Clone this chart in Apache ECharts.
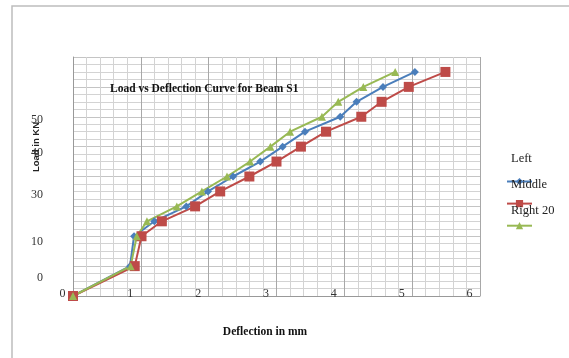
<!DOCTYPE html>
<html>
<head>
<meta charset="utf-8">
<script src="https://cdn.jsdelivr.net/npm/echarts@6/dist/echarts.min.js"></script>
<style>
  html, body { margin: 0; padding: 0; background: #fff; }
  #chart { width: 569px; height: 358px; }
</style>
</head>
<body>
<div id="chart"></div>
<script>
// load steps (kN), shared by all three gauges
const loads = [0, 10, 20, 25, 30, 35, 40, 45, 50, 55, 60, 65, 70, 75]

// deflection readings (mm)
const leftDefl = [0, 0.84, 0.90, 1.20, 1.67, 1.99, 2.36, 2.76, 3.09, 3.42, 3.94, 4.18, 4.57, 5.04]
const middleDefl = [0, 0.91, 1.01, 1.31, 1.80, 2.17, 2.60, 3.00, 3.36, 3.73, 4.25, 4.55, 4.95, 5.49]
const right20Defl = [0, 0.85, 0.94, 1.09, 1.53, 1.90, 2.27, 2.61, 2.91, 3.20, 3.67, 3.91, 4.28, 4.75]

const seriesNames = ['Left', 'Middle', 'Right 20']

// the y tick labels in the source sit at odd places, keep them as they appear
const yTickLabels = ['0', '10', '30', '40', '50']
const yTickAt = [6, 18, 34, 48, 59]

const serif = 'Liberation Serif'

const pair = (xs) => xs.map((x, i) => [x, loads[i]])

const chart = echarts.init(document.getElementById('chart'))

const option = {
  animation: false,
  backgroundColor: '#fff',
  title: {
    text: 'Load vs Deflection Curve for Beam S1',
    left: 105,
    top: 78,
    textStyle: { fontFamily: serif, fontSize: 11.5, fontWeight: 'bold', color: '#111' }
  },
  legend: [
    {
      // markers only
      orient: 'vertical',
      left: 501,
      top: 172,
      itemWidth: 25,
      itemHeight: 9,
      itemGap: 14,
      formatter: () => '',
      data: seriesNames
    },
    {
      // text only, drawn a bit higher than the markers as in the source
      orient: 'vertical',
      left: 506,
      top: 147,
      itemWidth: 0,
      itemHeight: 0,
      itemGap: 13,
      icon: 'rect',
      itemStyle: { opacity: 0 },
      textStyle: { fontFamily: serif, fontSize: 12.5, color: '#222', padding: [0, 0, 0, -5] },
      data: seriesNames
    }
  ],
  grid: { left: 73, right: 89, top: 57, bottom: 62 },
  xAxis: {
    type: 'value',
    min: 0,
    max: 6,
    interval: 1,
    name: 'Deflection in mm',
    nameLocation: 'middle',
    nameGap: 30,
    nameTextStyle: { fontFamily: serif, fontSize: 11.5, fontWeight: 'bold', color: '#111', padding: [0, 23, 0, 0] },
    axisLine: { lineStyle: { color: '#999' } },
    axisTick: { show: false },
    axisLabel: { fontFamily: serif, fontSize: 12, color: '#333', margin: -8, padding: [0, 21, 0, 0] },
    splitLine: { show: true, lineStyle: { color: '#a8a8a8' } },
    minorTick: { show: false, splitNumber: 5 },
    minorSplitLine: { show: true, lineStyle: { color: '#d3d3d3' } }
  },
  yAxis: [
    {
      type: 'value',
      min: 0,
      max: 80,
      interval: 10,
      axisLine: { show: true, lineStyle: { color: '#999' } },
      axisTick: { show: false },
      axisLabel: { show: false },
      splitLine: { show: true, lineStyle: { color: '#c4c4c4' } },
      minorTick: { show: false, splitNumber: 4 },
      minorSplitLine: { show: true, lineStyle: { color: '#d3d3d3' } }
    },
    {
      type: 'value',
      position: 'left',
      min: 0,
      max: 80,
      interval: 1,
      axisLine: { show: false },
      axisTick: { show: false },
      splitLine: { show: false },
      axisLabel: {
        margin: 30,
        fontFamily: serif,
        fontSize: 12,
        color: '#333',
        formatter: (v) => {
          const k = yTickAt.indexOf(Math.round(v))
          return k >= 0 ? yTickLabels[k] : ''
        }
      }
    }
  ],
  graphic: [
    {
      type: 'rect',
      shape: { x: 12, y: 6, width: 580, height: 370 },
      style: { fill: 'none', stroke: '#bdbdbd', lineWidth: 1.5 },
      silent: true
    },
    {
      type: 'text',
      x: 36,
      y: 147,
      rotation: Math.PI / 2,
      style: {
        text: 'Load in KN',
        font: 'bold 9.5px "Liberation Sans"',
        fill: '#222',
        align: 'center',
        verticalAlign: 'middle'
      }
    }
  ],
  series: [
    {
      name: seriesNames[0],
      type: 'line',
      data: pair(leftDefl),
      symbol: 'diamond',
      symbolSize: 8,
      color: '#4a7ebb',
      lineStyle: { width: 2 }
    },
    {
      name: seriesNames[1],
      type: 'line',
      data: pair(middleDefl),
      symbol: 'rect',
      symbolSize: 10,
      color: '#be4b48',
      lineStyle: { width: 2 }
    },
    {
      name: seriesNames[2],
      type: 'line',
      data: pair(right20Defl),
      symbol: 'triangle',
      symbolSize: 8,
      color: '#98b954',
      lineStyle: { width: 2 }
    }
  ]
}

chart.setOption(option)
</script>
</body>
</html>
